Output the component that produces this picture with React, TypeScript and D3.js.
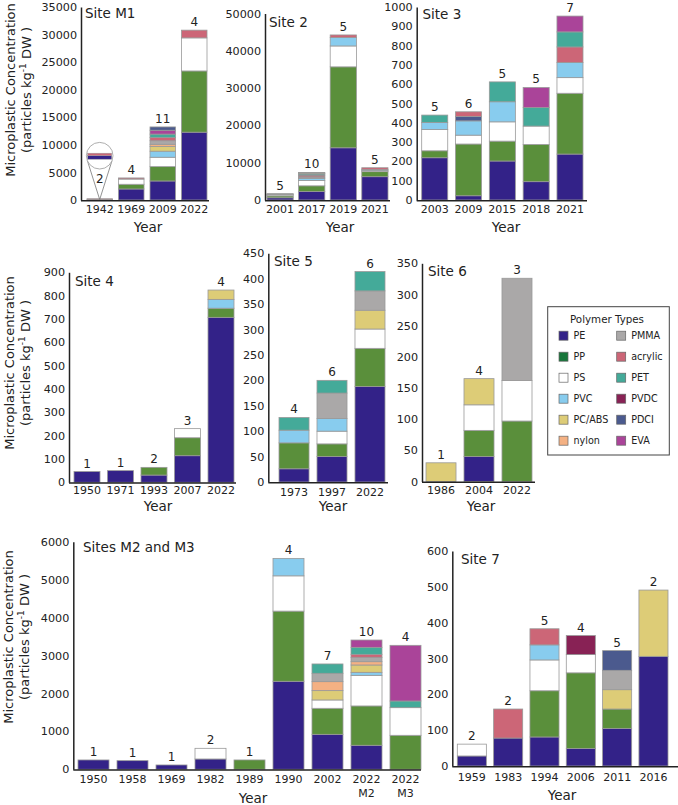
import React, { useEffect, useRef } from 'react';
import * as d3 from 'd3';

const FONT = '"DejaVu Sans", Verdana, sans-serif';

// polymer categories, in legend order
const polymerTypes = ['PE', 'PP', 'PS', 'PVC', 'PC/ABS', 'nylon', 'PMMA', 'acrylic', 'PET', 'PVDC', 'PDCI', 'EVA'];
const barColors = ['#332288', '#5a8f3b', '#ffffff', '#88ccee', '#ddcc77', '#f4b183', '#aaa8a8', '#cc6677', '#44aa99', '#882255', '#4b5a8e', '#aa4499'];
const legendColors = ['#332288', '#17763a', '#ffffff', '#88ccee', '#ddcc77', '#f4b183', '#aaa8a8', '#cc6677', '#44aa99', '#882255', '#4b5a8e', '#aa4499'];

type Part = [string, number];
type Bar = { year: string; sub?: string; parts: Part[] };

// particles kg-1 DW by polymer, one entry per sampled year
const siteM1: Bar[] = [
  { year: '1942', parts: [['PE', 130], ['acrylic', 90]] },
  { year: '1969', parts: [['PE', 2000], ['PP', 850], ['PS', 950], ['acrylic', 200]] },
  {
    year: '2009',
    parts: [['PE', 3450], ['PP', 2600], ['PS', 1700], ['PVC', 1100], ['PC/ABS', 850], ['nylon', 400],
      ['PMMA', 650], ['acrylic', 600], ['PET', 600], ['EVA', 700], ['PDCI', 600]],
  },
  { year: '2022', parts: [['PE', 12300], ['PP', 11100], ['PS', 6000], ['acrylic', 1400]] },
];

const site2: Bar[] = [
  { year: '2001', parts: [['PE', 600], ['PP', 500], ['PS', 300], ['PVC', 150], ['PMMA', 150]] },
  {
    year: '2017',
    parts: [['PE', 2250], ['PP', 1550], ['PS', 1450], ['PVC', 550], ['PMMA', 300], ['acrylic', 350],
      ['PVDC', 250], ['PET', 300], ['nylon', 200], ['PC/ABS', 200]],
  },
  { year: '2019', parts: [['PE', 14000], ['PP', 21700], ['PS', 5600], ['PVC', 2250], ['acrylic', 700]] },
  { year: '2021', parts: [['PE', 6250], ['PP', 1350], ['PS', 300], ['PVC', 250], ['acrylic', 500]] },
];

const site3: Bar[] = [
  { year: '2003', parts: [['PE', 219], ['PP', 36], ['PS', 110], ['PVC', 37], ['PET', 38]] },
  { year: '2009', parts: [['PE', 22], ['PP', 268], ['PS', 46], ['PVC', 74], ['PDCI', 23], ['acrylic', 24]] },
  { year: '2015', parts: [['PE', 202], ['PP', 103], ['PS', 100], ['PVC', 104], ['PET', 103]] },
  { year: '2018', parts: [['PE', 95], ['PP', 193], ['PS', 95], ['PET', 96], ['EVA', 104]] },
  { year: '2021', parts: [['PE', 238], ['PP', 315], ['PS', 81], ['PVC', 78], ['acrylic', 81], ['PET', 78], ['EVA', 82]] },
];

const site4: Bar[] = [
  { year: '1950', parts: [['PE', 46]] },
  { year: '1971', parts: [['PE', 50]] },
  { year: '1993', parts: [['PE', 31], ['PP', 33]] },
  { year: '2007', parts: [['PE', 114], ['PP', 77], ['PS', 39]] },
  { year: '2022', parts: [['PE', 707], ['PP', 39], ['PVC', 38], ['PC/ABS', 40]] },
];

const site5: Bar[] = [
  { year: '1973', parts: [['PE', 26], ['PP', 51], ['PVC', 25], ['PET', 25]] },
  { year: '1997', parts: [['PE', 50], ['PP', 25], ['PS', 25], ['PVC', 25], ['PMMA', 50], ['PET', 25]] },
  { year: '2022', parts: [['PE', 188], ['PP', 75], ['PS', 38], ['PC/ABS', 37], ['PMMA', 38], ['PET', 38]] },
];

const site6: Bar[] = [
  { year: '1986', parts: [['PC/ABS', 30]] },
  { year: '2004', parts: [['PE', 40], ['PP', 42], ['PS', 41], ['PC/ABS', 42]] },
  { year: '2022', parts: [['PP', 97], ['PS', 65], ['PMMA', 164]] },
];

const sitesM2M3: Bar[] = [
  { year: '1950', parts: [['PE', 246]] },
  { year: '1958', parts: [['PE', 228]] },
  { year: '1969', parts: [['PE', 114]] },
  { year: '1982', parts: [['PE', 272], ['PS', 281]] },
  { year: '1989', parts: [['PP', 246]] },
  { year: '1990', parts: [['PE', 2320], ['PP', 1850], ['PS', 930], ['PVC', 460]] },
  {
    year: '2002',
    parts: [['PE', 922], ['PP', 686], ['PS', 220], ['PC/ABS', 246], ['nylon', 237], ['PMMA', 220], ['PET', 246]],
  },
  {
    year: '2022', sub: 'M2',
    parts: [['PE', 633], ['PP', 1037], ['PS', 807], ['PVC', 79], ['PC/ABS', 194], ['nylon', 87],
      ['PMMA', 115], ['acrylic', 79], ['PET', 184], ['EVA', 193]],
  },
  { year: '2022', sub: 'M3', parts: [['PP', 896], ['PS', 729], ['PET', 176], ['EVA', 1467]] },
];

const site7: Bar[] = [
  { year: '1959', parts: [['PE', 28], ['PS', 33]] },
  { year: '1983', parts: [['PE', 78], ['acrylic', 81]] },
  { year: '1994', parts: [['PE', 81], ['PP', 129], ['PS', 86], ['PVC', 42], ['acrylic', 45]] },
  { year: '2006', parts: [['PE', 49], ['PP', 211], ['PS', 51], ['PVDC', 53]] },
  { year: '2011', parts: [['PE', 105], ['PP', 54], ['PC/ABS', 54], ['PMMA', 54], ['PDCI', 55]] },
  { year: '2016', parts: [['PE', 306], ['PC/ABS', 185]] },
];

// panel layout on the page
const panels = [
  { title: 'Site M1', bars: siteM1, max: 35000, step: 5000, ax: 81, top: 7, bottom: 200, L: 87, R: 207, pad: 0.19, end: 209, tx: 85, ty: 18, yx: 148, yy: 232, tickDy: 13 },
  { title: 'Site 2', bars: site2, max: 50000, step: 10000, ax: 265, top: 13.5, bottom: 200, L: 267, R: 388, pad: 0.17, end: 390, tx: 269, ty: 27, yx: 340, yy: 232, tickDy: 13 },
  { title: 'Site 3', bars: site3, max: 1000, step: 100, ax: 416.7, top: 7, bottom: 200, L: 421.7, R: 583, pad: 0.23, end: 587, tx: 422.5, ty: 19, yx: 506, yy: 232, tickDy: 13 },
  { title: 'Site 4', bars: site4, max: 900, step: 100, ax: 69, top: 272.3, bottom: 482.3, L: 74, R: 234, pad: 0.224, end: 236, tx: 75, ty: 286, yx: 158, yy: 511, tickDy: 12 },
  { title: 'Site 5', bars: site5, max: 450, step: 50, ax: 268.3, top: 253.3, bottom: 482, L: 279, R: 385, pad: 0.21, end: 388, tx: 274, ty: 266, yx: 333, yy: 511, tickDy: 14 },
  { title: 'Site 6', bars: site6, max: 350, step: 50, ax: 422, top: 263.3, bottom: 481.5, L: 426, R: 532, pad: 0.21, end: 535, tx: 428, ty: 276, yx: 481, yy: 511, tickDy: 12.5 },
  { title: 'Sites M2 and M3', bars: sitesM2M3, max: 6000, step: 1000, ax: 73.3, top: 541.7, bottom: 769.3, L: 78, R: 421, pad: 0.205, end: 421, tx: 83, ty: 552, yx: 253, yy: 803, tickDy: 14 },
  { title: 'Site 7', bars: site7, max: 600, step: 100, ax: 452.3, top: 551, bottom: 766, L: 457.3, R: 668, pad: 0.2, end: 678, tx: 461, ty: 564, yx: 562, yy: 800, tickDy: 15 },
];

const color = d3.scaleOrdinal<string, string>(polymerTypes, barColors);

function drawPanel(svg: any, p: any) {
  const g = svg.append('g');
  const keys = p.bars.map((b: Bar, i: number) => `${i}`);
  const x = d3.scaleBand().domain(keys).range([p.L, p.R]).paddingInner(p.pad).paddingOuter(0);
  const y = d3.scaleLinear().domain([0, p.max]).range([p.bottom, p.top]);
  const bw = x.bandwidth();

  p.bars.forEach((bar: Bar, i: number) => {
    const bx = x(`${i}`)!;
    const tops = d3.cumsum(bar.parts, (d) => d[1]);
    bar.parts.forEach(([type, v], j) => {
      const hi = tops[j];
      const lo = hi - v;
      g.append('rect')
        .attr('x', bx)
        .attr('y', y(hi))
        .attr('width', bw)
        .attr('height', Math.max(0, y(lo) - y(hi)))
        .attr('fill', color(type))
        .attr('stroke', '#999')
        .attr('stroke-width', 0.8);
    });
    // count of polymer types above each bar (the 1942 one sits in the magnifier)
    if (!(p.title === 'Site M1' && i === 0)) {
      g.append('text')
        .attr('x', bx + bw / 2)
        .attr('y', y(tops[tops.length - 1]) - 4)
        .attr('text-anchor', 'middle')
        .attr('font-size', 12)
        .attr('fill', '#222')
        .text(bar.parts.length);
    }
    // year labels under the bars
    g.append('text')
      .attr('x', bx + bw / 2)
      .attr('y', p.bottom + p.tickDy)
      .attr('text-anchor', 'middle')
      .attr('font-size', 11)
      .attr('fill', '#222')
      .text(bar.year);
    if (bar.sub) {
      g.append('text')
        .attr('x', bx + bw / 2)
        .attr('y', p.bottom + p.tickDy + 14)
        .attr('text-anchor', 'middle')
        .attr('font-size', 11)
        .attr('fill', '#222')
        .text(bar.sub);
    }
  });

  g.append('g')
    .attr('transform', `translate(${p.ax},0)`)
    .call(
      d3.axisLeft(y)
        .tickValues(d3.range(0, p.max + 1, p.step))
        .tickSize(0)
        .tickPadding(4)
        .tickFormat(d3.format('d'))
    )
    .call((a: any) => {
      a.attr('font-family', FONT).attr('font-size', 11.2);
      a.select('.domain').attr('stroke', '#222').attr('stroke-width', 1.5);
      a.selectAll('text').attr('fill', '#222');
    });

  g.append('line')
    .attr('x1', p.ax)
    .attr('x2', p.end)
    .attr('y1', p.bottom + 0.75)
    .attr('y2', p.bottom + 0.75)
    .attr('stroke', '#222')
    .attr('stroke-width', 1.5);

  g.append('text')
    .attr('x', p.tx)
    .attr('y', p.ty)
    .attr('font-size', 13.5)
    .attr('fill', '#222')
    .text(p.title);

  g.append('text')
    .attr('x', p.yx)
    .attr('y', p.yy)
    .attr('text-anchor', 'middle')
    .attr('font-size', 13.5)
    .attr('fill', '#222')
    .text('Year');
}

// enlarged view of the tiny 1942 bar at Site M1
function drawMagnifier(svg: any) {
  const bar = siteM1[0];
  const cx = 99.7;
  const cy = 155.7;
  const r = 13.3;
  const g = svg.append('g');
  g.append('line').attr('x1', cx - r + 1).attr('y1', cy + 5).attr('x2', cx).attr('y2', 199.5)
    .attr('stroke', '#777').attr('stroke-width', 0.8);
  g.append('line').attr('x1', cx + r - 1).attr('y1', cy + 5).attr('x2', cx).attr('y2', 199.5)
    .attr('stroke', '#777').attr('stroke-width', 0.8);
  g.append('circle').attr('cx', cx).attr('cy', cy).attr('r', r)
    .attr('fill', '#fff').attr('stroke', '#999').attr('stroke-width', 0.8);
  const total = d3.sum(bar.parts, (d) => d[1]);
  const zy = d3.scaleLinear().domain([0, total]).range([cy + 3.5, cy - 2.5]);
  const tops = d3.cumsum(bar.parts, (d) => d[1]);
  bar.parts.forEach(([type, v], j) => {
    g.append('rect')
      .attr('x', cx - 12)
      .attr('width', 24)
      .attr('y', zy(tops[j]))
      .attr('height', zy(tops[j] - v) - zy(tops[j]))
      .attr('fill', color(type))
      .attr('stroke', '#999')
      .attr('stroke-width', 0.5);
  });
  g.append('text')
    .attr('x', cx)
    .attr('y', 183)
    .attr('text-anchor', 'middle')
    .attr('font-size', 12)
    .attr('fill', '#222')
    .text(bar.parts.length);
}

function drawLegend(svg: any) {
  const g = svg.append('g');
  g.append('rect').attr('x', 547.7).attr('y', 306.7).attr('width', 121.6).attr('height', 148.3)
    .attr('fill', '#fff').attr('stroke', '#444').attr('stroke-width', 1);
  g.append('text').attr('x', 607).attr('y', 323).attr('text-anchor', 'middle')
    .attr('font-size', 10.3).attr('fill', '#222').text('Polymer Types');
  const half = polymerTypes.length / 2;
  polymerTypes.forEach((t, i) => {
    const col = Math.floor(i / half);
    const row = i % half;
    const sx = col === 0 ? 559 : 616.7;
    const cyy = 335.7 + row * 21;
    g.append('rect').attr('x', sx).attr('y', cyy - 4.5).attr('width', 9).attr('height', 9)
      .attr('fill', legendColors[i]).attr('stroke', '#666').attr('stroke-width', 0.7);
    g.append('text').attr('x', sx + 14.5).attr('y', cyy + 3.5)
      .attr('font-size', 9.6).attr('fill', '#222').text(t);
  });
}

function drawYTitles(svg: any) {
  const rows = [
    { x: 10, cy: 90 },
    { x: 9, cy: 363 },
    { x: 8.5, cy: 637 },
  ];
  rows.forEach((r) => {
    svg.append('text')
      .attr('transform', `translate(${r.x + 4.8},${r.cy}) rotate(-90)`)
      .attr('text-anchor', 'middle')
      .attr('font-size', 13)
      .attr('fill', '#222')
      .text('Microplastic Concentration');
    const t = svg.append('text')
      .attr('transform', `translate(${r.x + 20.8},${r.cy}) rotate(-90)`)
      .attr('text-anchor', 'middle')
      .attr('font-size', 13)
      .attr('fill', '#222');
    t.append('tspan').text('(particles kg');
    t.append('tspan').attr('dy', -5).attr('font-size', 9).text('-1');
    t.append('tspan').attr('dy', 5).text(' DW )');
  });
}

export default function App() {
  const svgRef = useRef<SVGSVGElement>(null);

  useEffect(() => {
    if (!svgRef.current) return;
    const svg = d3.select(svgRef.current);
    svg.selectAll('*').remove();
    svg.attr('font-family', FONT);

    panels.forEach((p) => drawPanel(svg, p));
    drawMagnifier(svg);
    drawLegend(svg);
    drawYTitles(svg);
  }, []);

  return (
    <svg
      ref={svgRef}
      width={678}
      height={805}
      style={{ position: 'absolute', left: 0, top: 0, background: '#fff', display: 'block' }}
    />
  );
}
